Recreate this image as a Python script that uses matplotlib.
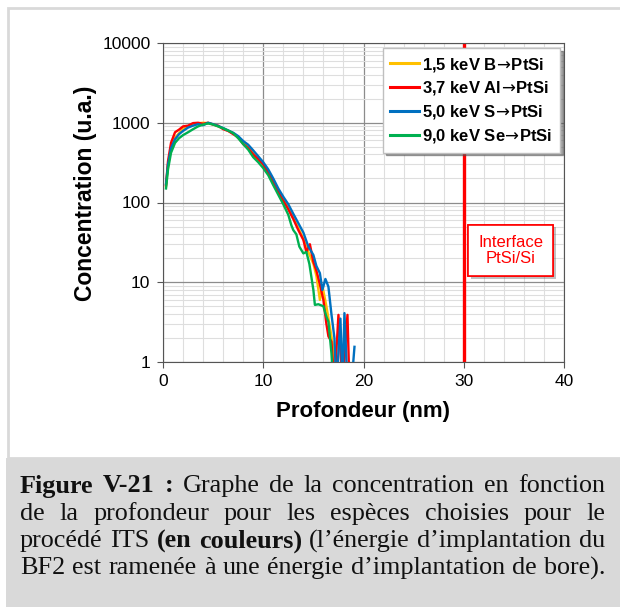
import numpy as np
import matplotlib
matplotlib.use('Agg')
import matplotlib.pyplot as plt
from matplotlib.patches import Rectangle
from matplotlib import patheffects

plt.rcParams['font.family'] = ['Liberation Sans', 'DejaVu Sans']

# profondeur (nm) et concentration (u.a.)
depth_b = [0.3, 0.5, 0.8, 1.2, 1.6, 2.0, 2.5, 3.0, 3.5, 4.0, 4.5, 5.0, 5.5, 6.0, 6.5, 7.0, 7.5, 8.0,
           8.5, 9.0, 9.5, 10.0, 10.5, 11.0, 11.5, 12.0, 12.5, 13.0, 13.5, 14.0, 14.5, 15.0, 15.3,
           15.65, 15.9, 16.3, 16.6, 17.0, 17.2]
conc_b = [160, 290, 470, 650, 740, 840, 900, 950, 985, 1000, 990, 950, 900, 850, 790, 735, 650, 560,
          500, 420, 355, 300, 240, 185, 140, 108, 86, 64, 48, 35, 24, 17, 12,
          6, 9, 5, 3, 1.5, 0.5]

depth_al = [0.3, 0.5, 0.8, 1.2, 1.6, 2.0, 2.5, 3.0, 3.5, 4.0, 4.5, 5.0, 5.5, 6.0, 6.5, 7.0, 7.5, 8.0,
            8.5, 9.0, 9.5, 10.0, 10.5, 11.0, 11.5, 12.0, 12.5, 13.0, 13.5, 14.0, 14.3, 14.65, 15.0,
            15.3, 15.6, 16.0, 16.3, 16.5, 16.8, 17.1, 17.5, 17.9, 18.4, 18.6]
conc_al = [165, 330, 560, 760, 820, 900, 920, 990, 1000, 970, 1000, 950, 920, 830, 790, 720, 660, 540,
           480, 400, 350, 300, 235, 180, 135, 105, 82, 62, 45, 34, 24, 30, 18,
           14, 10, 6, 3, 2.1, 1.8, 0.5, 3.9, 0.5, 3.9, 0.5]

depth_s = [0.3, 0.5, 0.8, 1.2, 1.6, 2.0, 2.5, 3.0, 3.5, 4.0, 4.5, 5.0, 5.5, 6.0, 6.5, 7.0, 7.5, 8.0,
           8.5, 9.0, 9.5, 10.0, 10.5, 11.0, 11.5, 12.0, 12.5, 13.0, 13.5, 14.0, 14.5, 15.0, 15.3,
           15.65, 15.9, 16.2, 16.5, 16.8, 17.1, 17.3, 17.7, 17.9, 18.1, 18.4, 18.95, 19.1]
conc_s = [170, 300, 480, 620, 720, 790, 870, 920, 960, 930, 1000, 960, 910, 860, 800, 750, 680, 590,
          530, 450, 380, 320, 260, 200, 150, 118, 95, 72, 55, 42, 28, 22, 16,
          13, 8, 11, 8.8, 4, 2, 0.5, 3.5, 0.5, 4.1, 0.5, 0.9, 1.55]

depth_se = [0.3, 0.5, 0.8, 1.2, 1.6, 2.0, 2.5, 3.0, 3.5, 4.0, 4.5, 5.0, 5.5, 6.0, 6.5, 7.0, 7.5, 8.0,
            8.5, 9.0, 9.5, 10.0, 10.5, 11.0, 11.5, 12.0, 12.5, 12.8, 13.0, 13.3, 13.6, 14.0, 14.3,
            14.6, 15.0, 15.15, 15.5, 16.0, 16.3, 16.5, 16.8, 17.0]
conc_se = [150, 260, 420, 560, 640, 700, 760, 830, 900, 950, 980, 950, 900, 850, 800, 740, 640, 540,
           460, 370, 320, 270, 220, 165, 125, 95, 70, 52, 45, 40, 28, 23, 24,
           17, 8, 5.2, 5.3, 5.0, 3.7, 3.2, 1.3, 0.5]

arrow = '$\\!\\rightarrow\\!$'
labels = ['1,5 keV B' + arrow + 'PtSi', '3,7 keV Al' + arrow + 'PtSi',
          '5,0 keV S' + arrow + 'PtSi', '9,0 keV Se' + arrow + 'PtSi']
colors = ['#ffc000', '#ff0000', '#0070c0', '#00b050']
interface = 30

fig = plt.figure(figsize=(6.2, 6.07), dpi=100)

# cadre gris autour du graphique
fig.patches.append(Rectangle((8 / 620, 149 / 607), 1.0, 450 / 607, transform=fig.transFigure,
                             fill=False, edgecolor='#d9d9d9', lw=2))
# fond gris de la légende texte
fig.patches.append(Rectangle((6 / 620, 0), 1.0, 149 / 607, transform=fig.transFigure,
                             facecolor='#d9d9d9', edgecolor='none'))

ax = fig.add_axes([163 / 620, 245 / 607, 401 / 620, 319 / 607])
series = [(depth_b, conc_b), (depth_al, conc_al), (depth_s, conc_s), (depth_se, conc_se)]
for (d, c), lab, col in zip(series, labels, colors):
    ax.plot(d, c, color=col, lw=1.7, label=lab, zorder=3)

ax.axvline(interface, color='#ff0000', lw=2.4, zorder=2)

ax.set_yscale('log')
ax.set_ylim(1, 10000)
ax.set_xlim(0, 40)
ax.set_xticks([0, 10, 20, 30, 40])
ax.set_xticks(np.arange(0, 41, 2), minor=True)
ax.set_yticks([1, 10, 100, 1000, 10000], labels=['1', '10', '100', '1000', '10000'])
ax.tick_params(which='major', direction='out', length=4, labelsize=12.5, color='#555555', pad=5)
ax.tick_params(which='minor', length=0)
ax.grid(which='major', color='#8c8c8c', lw=0.9)
ax.grid(which='minor', color='#dedede', lw=0.8)
ax.set_axisbelow(True)
for s in ax.spines.values():
    s.set_color('#555555')

ax.set_xlabel('Profondeur (nm)', fontsize=16, fontweight='bold', labelpad=8)
ax.set_ylabel('Concentration (u.a.)', fontsize=16.5, fontweight='bold', labelpad=4)
ax.yaxis.label.set_y(0.53)

leg = ax.legend(loc='upper right', bbox_to_anchor=(0.99, 0.984), borderaxespad=0, fancybox=False,
                shadow=True, framealpha=1, edgecolor='#bfbfbf', prop={'weight': 'bold', 'size': 12},
                handlelength=1.7, handletextpad=0.2, labelspacing=0.35, borderpad=0.45)
for h in leg.get_lines():
    h.set_linewidth(2.2)
leg.set_zorder(5)

t = ax.text(34.7, 25, 'Interface\nPtSi/Si', color='#ff0000', fontsize=12, ha='center', va='center',
            linespacing=1.15, zorder=6,
            bbox=dict(boxstyle='square,pad=0.6', facecolor='white', edgecolor='#ff0000', lw=1.2))
t.get_bbox_patch().set_path_effects([patheffects.withSimplePatchShadow(offset=(2, -2), alpha=0.35),
                                     patheffects.Normal()])

# légende de la figure, texte justifié
caption = [
    [('Figure', True), ('V-21', True), (':', True), ('Graphe', False), ('de', False), ('la', False),
     ('concentration', False), ('en', False), ('fonction', False)],
    [('de', False), ('la', False), ('profondeur', False), ('pour', False), ('les', False),
     ('espèces', False), ('choisies', False), ('pour', False), ('le', False)],
    [('procédé', False), ('ITS', False), ('(en', True), ('couleurs)', True),
     ('(l\u2019énergie', False), ('d\u2019implantation', False), ('du', False)],
    [('BF2', False), ('est', False), ('ramenée', False), ('à', False), ('une', False),
     ('énergie', False), ('d\u2019implantation', False), ('de', False), ('bore).', False)],
]
x_left, x_right = 20, 605
line_y = [486, 514, 541, 568]
fig.canvas.draw()
renderer = fig.canvas.get_renderer()
for words, yp in zip(caption, line_y):
    objs = []
    for w, bold in words:
        o = fig.text(0, 1 - yp / 607, w, fontsize=18.8, family='Liberation Serif',
                     fontweight='bold' if bold else 'normal', va='center', ha='left', color='#111111')
        objs.append(o)
    widths = [o.get_window_extent(renderer).width for o in objs]
    gap = (x_right - x_left - sum(widths)) / (len(objs) - 1)
    xp = x_left
    for o, w in zip(objs, widths):
        o.set_x(xp / 620)
        xp += w + gap

fig.savefig('out.png', dpi=100)
